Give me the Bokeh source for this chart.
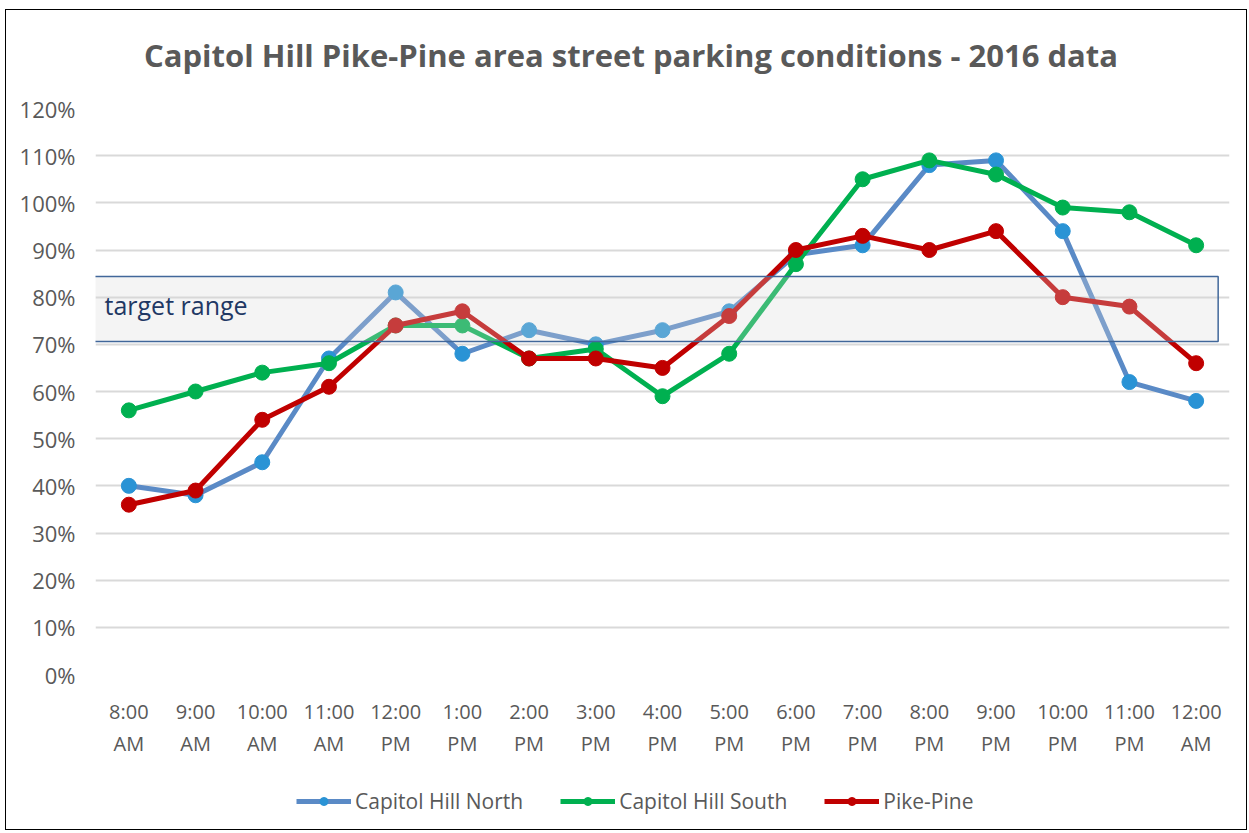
from bokeh.plotting import figure
from bokeh.layouts import column
from bokeh.models import (FactorRange, Range1d, Legend, LegendItem, BoxAnnotation,
                          Label, FixedTicker, PrintfTickFormatter)
from bokeh.core.properties import value
from bokeh.embed import file_html
from bokeh.resources import INLINE

title_text = "Capitol Hill Pike-Pine area street parking conditions - 2016 data"
times = ["8:00\nAM", "9:00\nAM", "10:00\nAM", "11:00\nAM", "12:00\nPM", "1:00\nPM",
         "2:00\nPM", "3:00\nPM", "4:00\nPM", "5:00\nPM", "6:00\nPM", "7:00\nPM",
         "8:00\nPM", "9:00\nPM", "10:00\nPM", "11:00\nPM", "12:00\nAM"]
north = [40, 38, 45, 67, 81, 68, 73, 70, 73, 77, 89, 91, 108, 109, 94, 62, 58]
south = [56, 60, 64, 66, 74, 74, 67, 69, 59, 68, 87, 105, 109, 106, 99, 98, 91]
pike = [36, 39, 54, 61, 74, 77, 67, 67, 65, 76, 90, 93, 90, 94, 80, 78, 66]
series_names = ["Capitol Hill North", "Capitol Hill South", "Pike-Pine"]
target_low = 70.6
target_high = 84.4
y_ticks = list(range(0, 121, 10))

FONT = "Open Sans"
GREY = "#595959"
W = 1240

# title strip
tf = figure(frame_width=W, frame_height=70, output_backend="svg", toolbar_location=None,
            min_border=0, outline_line_color=None, x_range=Range1d(0, W), y_range=Range1d(0, 70))
tf.axis.visible = False
tf.grid.visible = False
tf.add_layout(Label(x=535.5, y=25.5, text=title_text, text_font=FONT, text_font_size="31px",
                    text_font_style="bold", text_color=GREY, text_align="center",
                    text_baseline="middle"))

p = figure(x_range=FactorRange(*times, range_padding=0), y_range=Range1d(0, 120),
           frame_width=1134, frame_height=566, output_backend="svg", toolbar_location=None,
           min_border_left=89, min_border_right=17, min_border_top=28,
           min_border_bottom=90, outline_line_color=None)

p.xgrid.grid_line_color = None
p.ygrid.grid_line_color = "#D9D9D9"
p.ygrid.grid_line_width = 2
p.yaxis.ticker = FixedTicker(ticks=y_ticks)
p.yaxis.formatter = PrintfTickFormatter(format="%d%%")

for ax in (p.xaxis, p.yaxis):
    ax.axis_line_color = None
    ax.major_tick_line_color = None
    ax.minor_tick_line_color = None
    ax.major_label_text_font = FONT
    ax.major_label_text_color = GREY
p.yaxis.major_label_text_font_size = "22px"
p.yaxis.major_label_standoff = 14
p.xaxis.major_label_text_font_size = "20px"
p.xaxis.major_label_standoff = 17

line_colors = ["#5A8AC6", "#00B050", "#C00000"]
marker_colors = ["#2A93D5", "#00B050", "#C00000"]
for name, vals, lc, mc in zip(series_names, [north, south, pike], line_colors, marker_colors):
    p.line(times, vals, line_color=lc, line_width=5)
    p.scatter(times, vals, size=15, fill_color=mc, line_color=mc)

box = BoxAnnotation(bottom=target_low, top=target_high, left=-0.15, right=16.83,
                    fill_color="#D9D9D9", fill_alpha=0.28,
                    line_color="#41679A", line_alpha=1.0, line_width=1.5)
p.add_layout(box)
p.add_layout(Label(x=0, y=(target_low + target_high) / 2 + 0.9, text="target range",
                   text_font=FONT, text_font_size="25px", text_color="#1F3864",
                   text_baseline="middle", x_offset=9))

# legend strip below the chart (legend glyphs come from off-screen proxy renderers)
lf = figure(frame_width=W, frame_height=65, output_backend="svg", toolbar_location=None,
            min_border=0, outline_line_color=None, x_range=Range1d(0, 1), y_range=Range1d(0, 1))
lf.axis.visible = False
lf.grid.visible = False
items = []
for name, lc, mc in zip(series_names, line_colors, marker_colors):
    l = lf.line([5, 6], [5, 6], line_color=lc, line_width=5)
    c = lf.scatter([5], [5], size=15, fill_color=mc, line_color=mc)
    items.append(LegendItem(label=name, renderers=[l, c]))
legend = Legend(items=items, orientation="horizontal", location=(290, 14),
                border_line_color=None, background_fill_alpha=0,
                label_text_font=FONT, label_text_font_size="21px",
                label_text_color=GREY, glyph_width=55, spacing=37,
                label_standoff=4, margin=0, padding=0)
lf.add_layout(legend)

layout = column(tf, p, lf, spacing=0)
layout.styles = {"border": "1.5px solid black", "margin": "9px 0 0 5px"}

open("out.html", "w").write(file_html(layout, INLINE))
